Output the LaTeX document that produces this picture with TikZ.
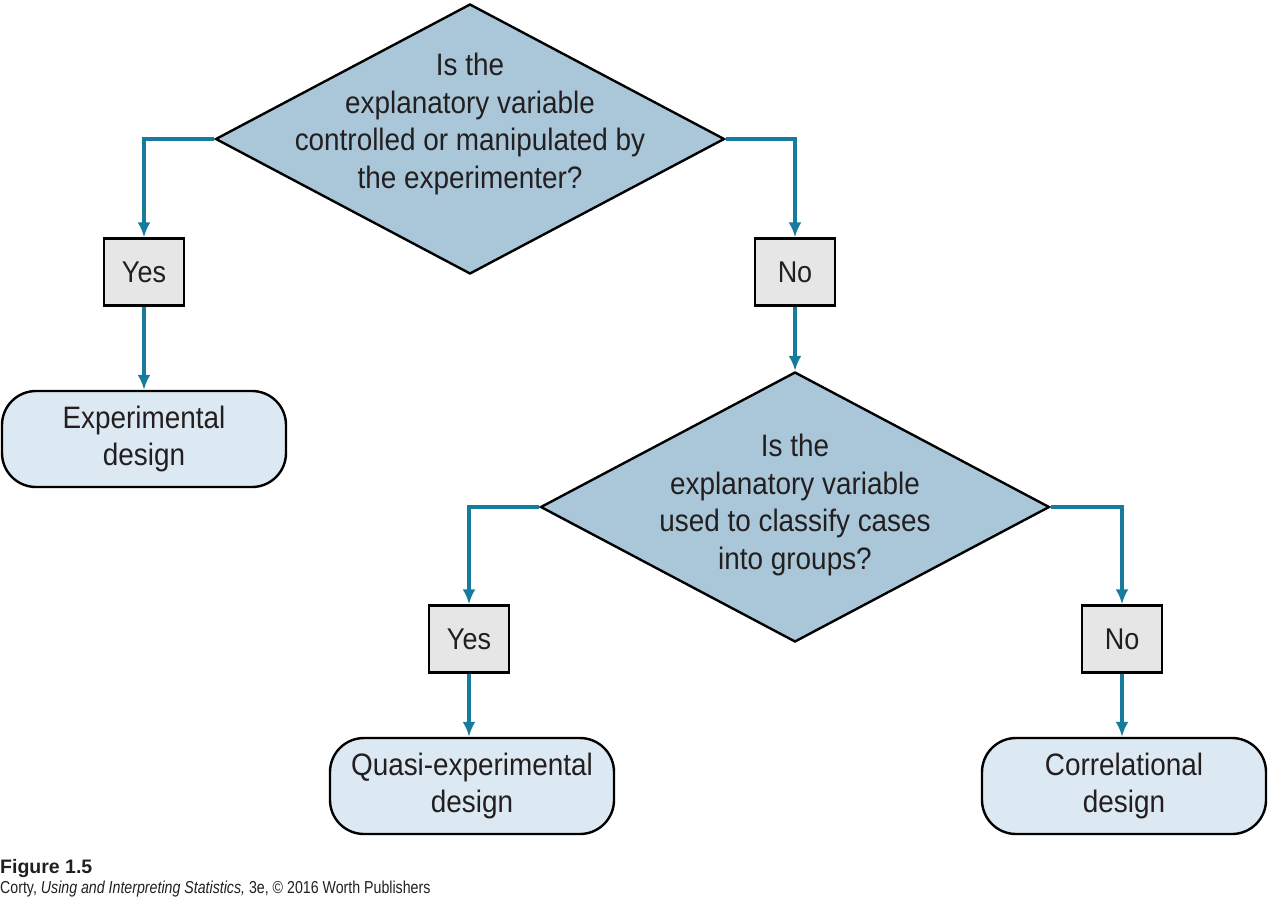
\documentclass[tikz,border=0pt]{standalone}
\usepackage{fontspec}
\setmainfont{Liberation Sans}
\newfontfamily\flowfont[FakeStretch=0.9]{Liberation Sans}
\newfontfamily\capfont[FakeStretch=0.82]{Liberation Sans}
\usetikzlibrary{shapes.geometric,arrows.meta}
\definecolor{flowteal}{HTML}{167B9C}
\definecolor{askfill}{HTML}{A9C7D8}
\definecolor{answerfill}{HTML}{E6E6E6}
\definecolor{endfill}{HTML}{DDE9F2}
\definecolor{inkgray}{HTML}{231F20}
\tikzset{
  ask/.style={diamond,draw=black,line width=2.4pt,fill=askfill,minimum width=509pt,minimum height=270pt,inner sep=0pt},
  asktext/.style={align=center,font=\flowfont\fontsize{31}{37.5}\selectfont,text=inkgray,inner sep=0pt},
  answer/.style={rectangle,draw=black,line width=2.4pt,fill=answerfill,minimum width=80pt,minimum height=67pt,inner sep=0pt,font=\flowfont\fontsize{30}{37.5}\selectfont,text=inkgray},
  outcome/.style={rectangle,rounded corners=34pt,draw=black,line width=2.4pt,fill=endfill,minimum width=284pt,minimum height=96pt,inner sep=0pt,align=center,font=\flowfont\fontsize{31}{37.5}\selectfont,text=inkgray},
  flow/.style={draw=flowteal,line width=4pt,-{Latex[length=15pt,width=13pt]}},
  caption/.style={anchor=base west,inner sep=0pt,text=inkgray},
}
\begin{document}
\begin{tikzpicture}[x=1pt,y=-1pt,line join=miter]
\useasboundingbox (0,0) rectangle (1268,900);
%%
\node (q1) at (470,139) [ask] {};
  \node (q1text) at ([yshift=15pt]q1.center) [asktext] {Is the\\explanatory variable\\controlled or manipulated by\\the experimenter?};
  \node (yes1) at (144,272) [answer] {Yes};
  \node (no1) at (795,272) [answer] {No};
  \node (exp) at (144,439) [outcome] {Experimental\\design};
  \node (q2) at (795,507) [ask] {};
  \node (q2text) at ([yshift=2pt]q2.center) [asktext] {Is the\\explanatory variable\\used to classify cases\\into groups?};
  \node (yes2) at (469,639) [answer] {Yes};
  \node (no2) at (1122,639) [answer] {No};
  \node (quasi) at (472,786) [outcome] {Quasi-experimental\\design};
  \node (corr) at (1124,786) [outcome] {Correlational\\design};
  \draw [flow] (q1.west) -| (yes1);
  \draw [flow] (yes1) -- (exp);
  \draw [flow] (q1.east) -| (no1);
  \draw [flow] (no1) -- (q2);
  \draw [flow] (q2.west) -| (yes2);
  \draw [flow] (yes2.south) -- (yes2.south |- quasi.north);
  \draw [flow] (q2.east) -| (no2);
  \draw [flow] (no2.south) -- (no2.south |- corr.north);
%
\node (figno) at (0,873) [caption,font=\bfseries\fontsize{19.5}{20}\selectfont] {Figure 1.5};
  \node (source) at (0,893) [caption,font=\capfont\fontsize{17.3}{20}\selectfont] {Corty, \textit{Using and Interpreting Statistics,} 3e, © 2016 Worth Publishers};
%
\end{tikzpicture}
\end{document}
